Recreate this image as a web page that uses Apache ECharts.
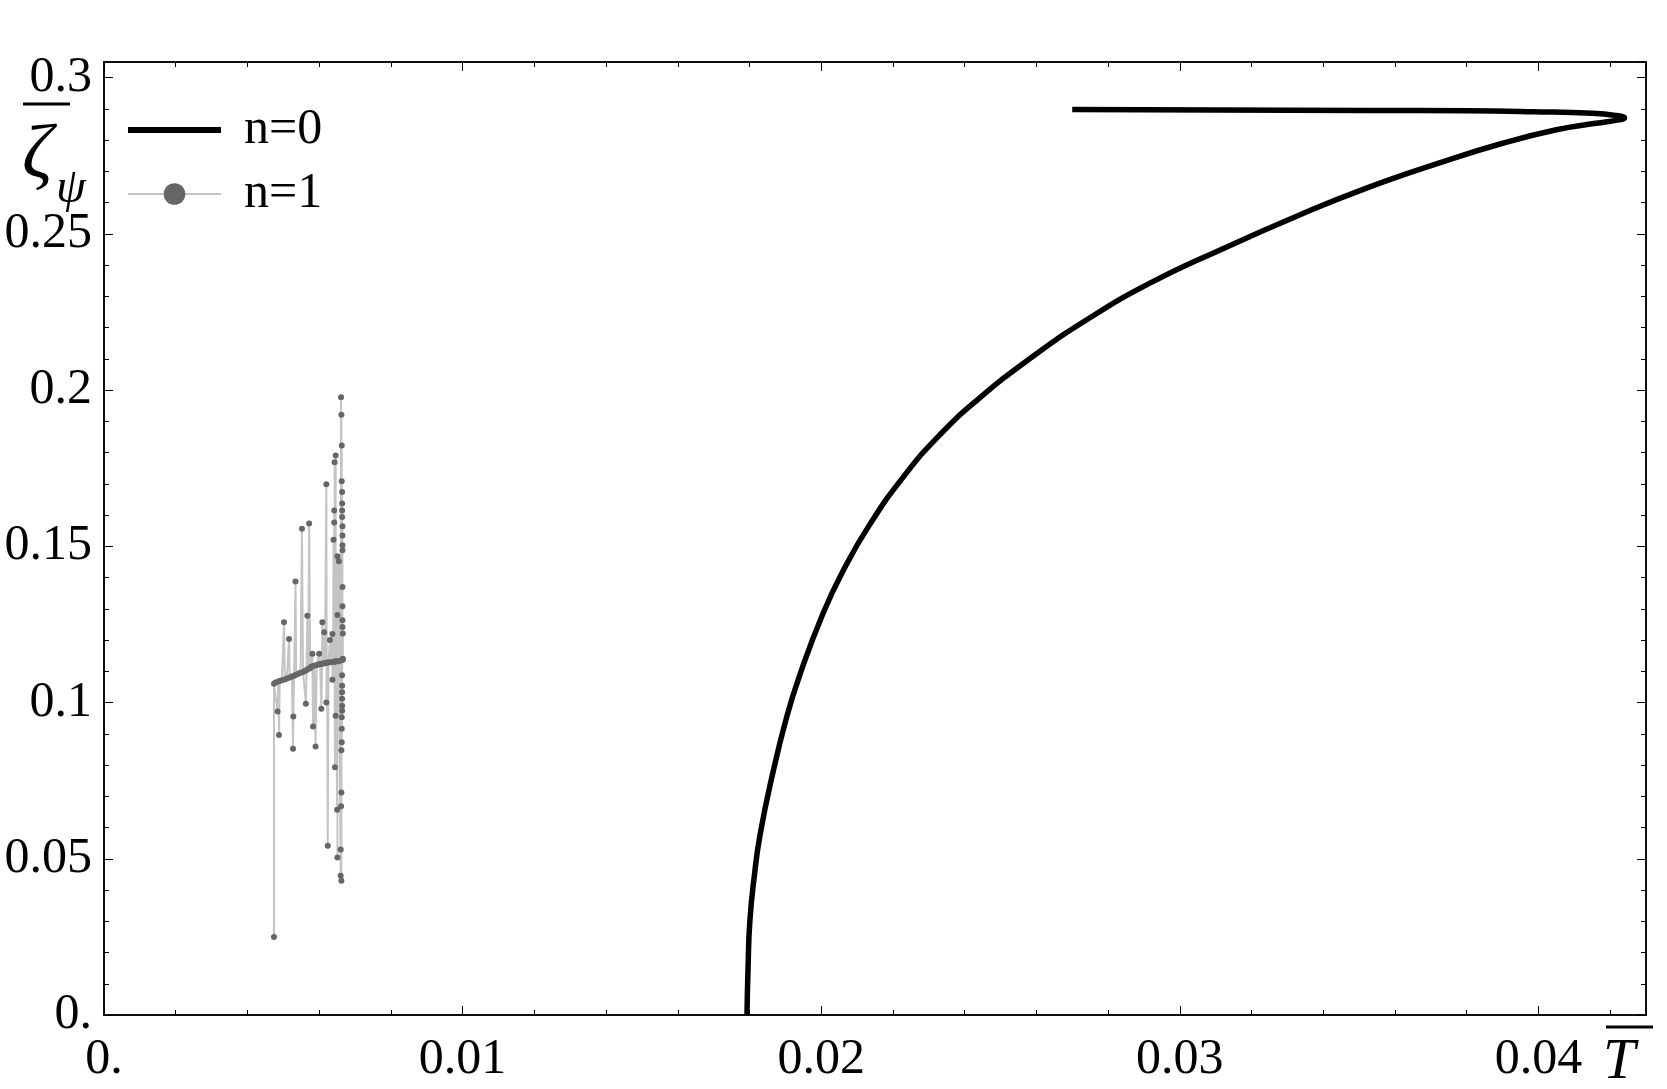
<!DOCTYPE html>
<html>
<head>
<meta charset="utf-8">
<title>zeta_psi vs T</title>
<script src="https://cdn.jsdelivr.net/npm/echarts@6/dist/echarts.min.js"></script>
<style>
  html, body { margin: 0; padding: 0; background: #fff; }
  #chart { width: 1667px; height: 1089px; }
</style>
</head>
<body>
<div id="chart"></div>
<script>
// n=0 branch (T, zeta), from the bottom round the tip
var n0T = [0.01793, 0.01796, 0.01801, 0.01814, 0.01830, 0.01864, 0.01904, 0.01939, 0.02005, 0.02064,
  0.02136, 0.02233, 0.02331, 0.02438, 0.02581, 0.02746, 0.02918, 0.03117, 0.03329, 0.03515,
  0.03724, 0.03900, 0.04050, 0.04160, 0.04220, 0.04240, 0.04215, 0.04151, 0.03984, 0.03799,
  0.03520, 0.03100, 0.02700]
var n0Z = [0, 0.015, 0.030, 0.045, 0.058, 0.0769, 0.0955, 0.1084, 0.1285, 0.1428,
  0.1571, 0.1728, 0.1857, 0.1971, 0.2100, 0.2229, 0.2343, 0.2451, 0.2558, 0.2644,
  0.2727, 0.2790, 0.2833, 0.2854, 0.2864, 0.2871, 0.2879, 0.2886, 0.2891, 0.2894,
  0.2895, 0.2896, 0.2898]

// n=1 points, in the order they are joined
var n1T = [0.00474, 0.00474, 0.00478, 0.00484, 0.00486, 0.00488, 0.00490, 0.00496, 0.00502, 0.00504,
  0.00510, 0.00516, 0.00518, 0.00524, 0.00527, 0.00528, 0.00530, 0.00534, 0.00536, 0.00542,
  0.00548, 0.00552, 0.00555, 0.00560, 0.00563, 0.00565, 0.00567, 0.00569, 0.00572, 0.00575,
  0.00578, 0.00581, 0.00583, 0.00586, 0.00590, 0.00593, 0.00598, 0.00600, 0.00603, 0.00606,
  0.00608, 0.00609, 0.00611, 0.00614, 0.00616, 0.00620, 0.00621, 0.00620, 0.00622, 0.00624,
  0.00626, 0.00630, 0.00632, 0.00637, 0.00637, 0.00639, 0.00640, 0.00641, 0.00642, 0.00643,
  0.00642, 0.00644, 0.00645, 0.00646, 0.00646, 0.00643, 0.00648, 0.00650, 0.00651, 0.00651,
  0.00651, 0.00653, 0.00655, 0.00656,
  0.00660, 0.00661, 0.00662, 0.00662, 0.00660, 0.00663, 0.00661, 0.00663, 0.00662, 0.00664,
  0.00662, 0.00664, 0.00663, 0.00664, 0.00663, 0.00664, 0.00663, 0.00665, 0.00664, 0.00665,
  0.00664, 0.00665, 0.00664, 0.00665, 0.00664, 0.00665, 0.00664, 0.00665, 0.00664, 0.00665,
  0.00665, 0.00665, 0.00666, 0.00666, 0.00666]
var n1Z = [0.0250, 0.1060, 0.1064, 0.0971, 0.1067, 0.0896, 0.1069, 0.1071, 0.1257, 0.1074,
  0.1077, 0.1203, 0.1080, 0.1083, 0.0852, 0.0955, 0.1086, 0.1387, 0.1089, 0.1092,
  0.1095, 0.1556, 0.1098, 0.1101, 0.0996, 0.1104, 0.1278, 0.1107, 0.1573, 0.1110,
  0.1115, 0.1156, 0.0923, 0.1118, 0.0859, 0.1120, 0.1122, 0.1156, 0.1123, 0.0980,
  0.1124, 0.1257, 0.1125, 0.1225, 0.1126, 0.1699, 0.1127, 0.1000, 0.1128, 0.0542,
  0.1128, 0.1200, 0.1129, 0.1219, 0.1073, 0.1130, 0.1521, 0.1130, 0.1615, 0.1131,
  0.1576, 0.0793, 0.1131, 0.1791, 0.0958, 0.1769, 0.1132, 0.0657, 0.1468, 0.0504,
  0.1280, 0.1132, 0.1452, 0.1133,
  0.0446, 0.1977, 0.0430, 0.1921, 0.0530, 0.1823, 0.0668, 0.1708, 0.0712, 0.1674,
  0.0847, 0.1637, 0.0873, 0.1615, 0.0916, 0.1594, 0.0953, 0.1564, 0.0974, 0.1535,
  0.0990, 0.1503, 0.1012, 0.1487, 0.1033, 0.1370, 0.1054, 0.1308, 0.1087, 0.1263,
  0.1136, 0.1242, 0.1138, 0.1221, 0.1140]

var xMax = 0.043
var yMax = 0.305
var serif = 'Liberation Serif'

function pairs(xs, ys) {
  return xs.map(function(x, i) { return [x, ys[i]] })
}

function fmt(v) {
  return v === 0 ? '0.' : String(parseFloat(v.toFixed(4)))
}

// one axis with the long ticks (and labels), one with the short ticks
function frameAxis(pos, max, step, len, labels) {
  return {
    type: 'value',
    position: pos,
    min: 0,
    max: max,
    interval: step,
    axisLine: { show: true, onZero: false, lineStyle: { color: '#000', width: 1.5 } },
    axisTick: { show: true, inside: true, length: len, lineStyle: { color: '#000', width: 1 } },
    axisLabel: {
      show: labels,
      showMaxLabel: false,
      formatter: fmt,
      color: '#000',
      fontFamily: serif,
      fontSize: 50,
      margin: pos === 'bottom' ? 20 : 12
    },
    splitLine: { show: false }
  }
}

var chart = echarts.init(document.getElementById('chart'))

var option = {
  backgroundColor: '#fff',
  animation: false,
  grid: { left: 104, right: 21, top: 62, bottom: 74 },
  legend: {
    orient: 'vertical',
    left: 120,
    top: 100,
    itemWidth: 93,
    itemHeight: 27,
    itemGap: 14,
    textStyle: { fontFamily: serif, fontSize: 50, color: '#000', padding: [0, 0, 0, 18] },
    data: [
      { name: 'n=0', itemStyle: { opacity: 0 }, lineStyle: { color: '#000', width: 6 } },
      { name: 'n=1', itemStyle: { color: '#666' }, lineStyle: { color: '#c4c4c4', width: 2 } }
    ]
  },
  xAxis: [
    frameAxis('bottom', xMax, 0.01, 9, true),
    frameAxis('bottom', xMax, 0.002, 5, false),
    frameAxis('top', xMax, 0.01, 9, false),
    frameAxis('top', xMax, 0.002, 5, false)
  ],
  yAxis: [
    frameAxis('left', yMax, 0.05, 9, true),
    frameAxis('left', yMax, 0.01, 5, false),
    frameAxis('right', yMax, 0.05, 9, false),
    frameAxis('right', yMax, 0.01, 5, false)
  ],
  graphic: [
    // axis name: zeta_psi with a bar over it
    { type: 'line', shape: { x1: 23, y1: 104, x2: 70, y2: 104 }, style: { stroke: '#000', lineWidth: 3 } },
    { type: 'text', left: 22, top: 119, style: { text: 'ζ', font: 'italic 76px "Liberation Serif"', fill: '#000' } },
    { type: 'text', left: 56, top: 165, style: { text: 'ψ', font: 'italic 48px "Liberation Serif"', fill: '#000' } },
    // axis name: T with a bar over it
    { type: 'line', shape: { x1: 1606, y1: 1027, x2: 1653, y2: 1027 }, style: { stroke: '#000', lineWidth: 3 } },
    { type: 'text', left: 1603, top: 1034, style: { text: 'T', font: 'italic 58px "Liberation Serif"', fill: '#000' } }
  ],
  series: [
    {
      name: 'n=0',
      type: 'line',
      xAxisIndex: 0,
      yAxisIndex: 0,
      data: pairs(n0T, n0Z),
      smooth: 0.5,
      symbol: 'none',
      lineStyle: { color: '#000', width: 5.5 },
      itemStyle: { color: '#000' },
      z: 3
    },
    {
      name: 'n=1',
      type: 'line',
      xAxisIndex: 0,
      yAxisIndex: 0,
      data: pairs(n1T, n1Z),
      symbol: 'circle',
      symbolSize: 6,
      showAllSymbol: true,
      lineStyle: { color: '#c4c4c4', width: 2 },
      itemStyle: { color: '#666' },
      z: 2
    }
  ]
}

chart.setOption(option)
</script>
</body>
</html>
